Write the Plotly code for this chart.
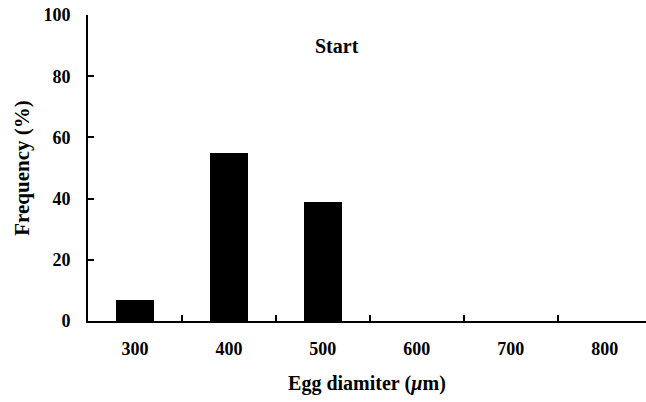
import plotly.graph_objects as go

# Egg diameter classes (µm) and their frequency (%)
diameters = ["300", "400", "500", "600", "700", "800"]
frequency = [7, 55, 39, 0, 0, 0]

FONT = "Liberation Serif"

fig = go.Figure(
    go.Bar(
        x=diameters,
        y=frequency,
        width=0.41,
        marker=dict(color="black", line=dict(width=0)),
    )
)

fig.update_layout(
    width=646,
    height=402,
    margin=dict(l=88, r=0, t=15, b=81),
    paper_bgcolor="white",
    plot_bgcolor="white",
    showlegend=False,
    font=dict(family=FONT, color="black"),
    bargap=0,
)

fig.update_xaxes(
    type="category",
    range=[-0.5, 5.44],
    showline=True,
    linecolor="black",
    linewidth=2,
    ticks="inside",
    tickson="boundaries",
    ticklen=6,
    tickwidth=1.5,
    tickcolor="black",
    showgrid=False,
    zeroline=False,
    tickfont=dict(family=FONT, size=18, color="black", weight="bold"),
    ticklabelstandoff=10,
    title=dict(
        text="<b>Egg diamiter (<i>µ</i>m)</b>",
        font=dict(family=FONT, size=20, color="black"),
        standoff=18,
    ),
)

fig.update_yaxes(
    range=[0, 100],
    tickvals=[0, 20, 40, 60, 80, 100],
    showline=True,
    linecolor="black",
    linewidth=2,
    ticks="inside",
    ticklen=6,
    tickwidth=1.5,
    tickcolor="black",
    showgrid=False,
    zeroline=False,
    tickfont=dict(family=FONT, size=18, color="black", weight="bold"),
    ticklabelstandoff=12,
    title=dict(
        text="<b>Frequency (%)</b>",
        font=dict(family=FONT, size=21, color="black"),
        standoff=8,
    ),
)

# panel label, positioned in plot-area fractions
fig.add_annotation(
    text="<b>Start</b>",
    x=(337 - 88) / (646 - 88),
    y=0.898,
    xref="paper",
    yref="paper",
    xanchor="center",
    yanchor="middle",
    showarrow=False,
    font=dict(family=FONT, size=20, color="black"),
)

fig.write_html("out.html")
